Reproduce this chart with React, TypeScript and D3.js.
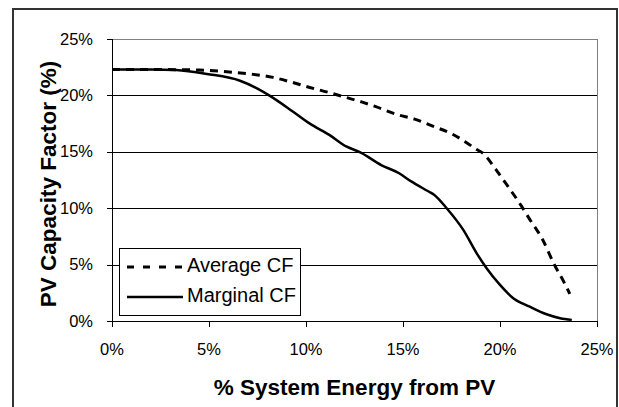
import React from 'react';
import * as d3 from 'd3';

// % system energy from PV vs capacity factor (%)
const averageX = [0, 2, 3.5, 4.5, 5.5, 7.1, 8.3, 9.2, 10.2, 11.2, 12.1, 12.9, 13.6, 14.7, 15.6, 16.5, 17.5, 18.2, 18.8, 19.1, 19.8, 20.3, 21.1, 21.5, 22.2, 22.8, 23.25, 23.6];
const averageY = [22.3, 22.3, 22.28, 22.25, 22.15, 21.9, 21.6, 21.2, 20.7, 20.25, 19.8, 19.4, 19.0, 18.3, 17.9, 17.3, 16.6, 15.9, 15.2, 14.9, 13.4, 12.2, 10.2, 9.1, 7.2, 5.0, 3.6, 2.4];

const marginalX = [0, 2, 3.3, 4.9, 6.6, 7.5, 8.1, 9.3, 10.2, 11.2, 12.1, 12.8, 13.9, 14.8, 15.4, 16.3, 16.6, 17.25, 18.1, 18.8, 19.3, 20.0, 20.7, 21.5, 22.4, 23.1, 23.7];
const marginalY = [22.3, 22.3, 22.25, 21.9, 21.3, 20.6, 20.0, 18.6, 17.5, 16.5, 15.45, 14.95, 13.8, 13.1, 12.4, 11.5, 11.2, 10.0, 8.1, 6.0, 4.7, 3.2, 2.0, 1.3, 0.6, 0.25, 0.1];

const xTicks = [0, 5, 10, 15, 20, 25];
const yTicks = [0, 5, 10, 15, 20, 25];
const legendLabels = ['Average CF', 'Marginal CF'];

const W = 619;
const H = 407;
const plot = { left: 112, top: 39, right: 597, bottom: 321 };
const font = '"Liberation Sans", Arial, sans-serif';

export default function App() {
  const x = d3.scaleLinear().domain([0, 25]).range([plot.left, plot.right]);
  const y = d3.scaleLinear().domain([0, 25]).range([plot.bottom, plot.top]);

  const line = d3.line<[number, number]>()
    .x(d => x(d[0]))
    .y(d => y(d[1]))
    .curve(d3.curveMonotoneX);

  const avgPts = averageX.map((v, i) => [v, averageY[i]] as [number, number]);
  const margPts = marginalX.map((v, i) => [v, marginalY[i]] as [number, number]);

  return (
    <svg width={W} height={H} style={{ position: 'absolute', left: 0, top: 0, background: '#fff' }} fontFamily={font}>
      <rect x={13} y={9} width={604} height={420} fill="#fff" stroke="#333" strokeWidth={2} />

      {/* gridlines */}
      {yTicks.filter(t => t > 0 && t < 25).map(t => (
        <line key={t} x1={plot.left} x2={plot.right} y1={Math.round(y(t)) + 0.5} y2={Math.round(y(t)) + 0.5} stroke="#000" strokeWidth={1} />
      ))}
      {/* plot area border */}
      <rect x={plot.left + 0.5} y={plot.top + 0.5} width={plot.right - plot.left} height={plot.bottom - plot.top} fill="none" stroke="#808080" strokeWidth={1} />

      {/* axes */}
      <line x1={plot.left + 0.5} x2={plot.left + 0.5} y1={plot.top} y2={plot.bottom + 1} stroke="#000" />
      <line x1={plot.left} x2={plot.right + 1} y1={plot.bottom + 0.5} y2={plot.bottom + 0.5} stroke="#000" />

      {yTicks.map(t => (
        <g key={'y' + t}>
          <line x1={plot.left - 5} x2={plot.left} y1={Math.round(y(t)) + 0.5} y2={Math.round(y(t)) + 0.5} stroke="#000" />
          <text x={93} y={y(t) + 5.5} textAnchor="end" fontSize={16.5}>{t}%</text>
        </g>
      ))}
      {xTicks.map(t => (
        <g key={'x' + t}>
          <line x1={Math.round(x(t)) + 0.5} x2={Math.round(x(t)) + 0.5} y1={plot.bottom} y2={plot.bottom + 6} stroke="#000" />
          <text x={x(t)} y={355} textAnchor="middle" fontSize={16.5}>{t}%</text>
        </g>
      ))}

      {/* series */}
      <path d={line(avgPts) || ''} fill="none" stroke="#000" strokeWidth={3} strokeDasharray="8,6" />
      <path d={line(margPts) || ''} fill="none" stroke="#000" strokeWidth={2.5} />

      {/* legend */}
      <rect x={119.5} y={248.5} width={181} height={67} fill="#fff" stroke="#000" strokeWidth={1} />
      <line x1={127} x2={183} y1={267} y2={267} stroke="#000" strokeWidth={3} strokeDasharray="7,9" />
      <line x1={127} x2={183} y1={297} y2={297} stroke="#000" strokeWidth={2.5} />
      <text x={187} y={272} fontSize={20}>{legendLabels[0]}</text>
      <text x={187} y={302} fontSize={20}>{legendLabels[1]}</text>

      {/* titles */}
      <text x={354.5} y={395} textAnchor="middle" fontSize={22.5} fontWeight="bold">% System Energy from PV</text>
      <text transform="translate(56,184) rotate(-90)" textAnchor="middle" fontSize={22.5} fontWeight="bold">PV Capacity Factor (%)</text>
    </svg>
  );
}
